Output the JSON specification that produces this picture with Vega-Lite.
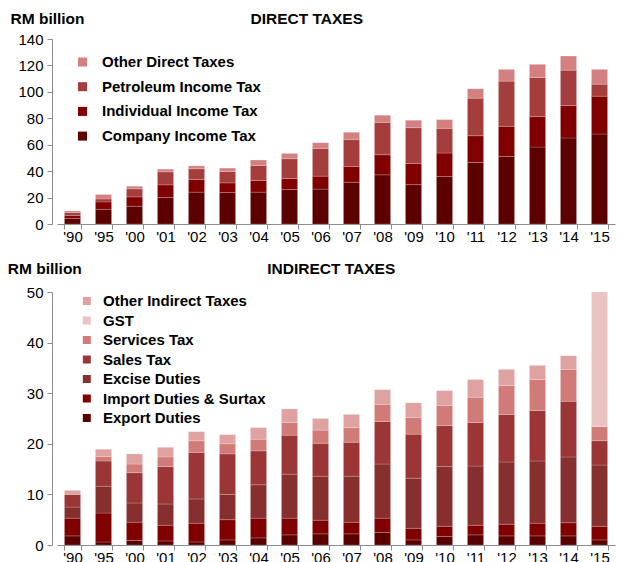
{
  "$schema": "https://vega.github.io/schema/vega-lite/v6.json",
  "padding": {"left": 7, "top": 11, "right": 2, "bottom": 0},
  "spacing": 17,
  "background": "white",
  "resolve": {"scale": {"color": "independent", "y": "independent", "x": "independent"}, "legend": {"color": "independent"}},
  "config": {
    "font": "Liberation Sans",
    "view": {"stroke": null},
    "axis": {
      "labelFont": "Liberation Sans", "labelFontSize": 15, "labelColor": "#000",
      "domainColor": "#8c8c8c", "tickColor": "#8c8c8c", "tickSize": 5, "grid": false,
      "titleFont": "Liberation Sans", "titleFontSize": 15.5, "titleFontWeight": "bold", "titleColor": "#000"
    },
    "legend": {
      "orient": "none", "labelFont": "Liberation Sans", "labelFontSize": 15, "labelFontWeight": "bold",
      "labelColor": "#000", "symbolType": "square", "symbolStrokeWidth": 0, "padding": 0, "labelLimit": 400
    }
  },
  "datasets": {
    "direct": [
      {"year": "'90", "Company Income Tax": 4.3, "Individual Income Tax": 2.2, "Petroleum Income Tax": 2.2, "Other Direct Taxes": 1.2},
      {"year": "'95", "Company Income Tax": 11.1, "Individual Income Tax": 5.6, "Petroleum Income Tax": 2.3, "Other Direct Taxes": 3.3},
      {"year": "'00", "Company Income Tax": 13.4, "Individual Income Tax": 7.1, "Petroleum Income Tax": 6.1, "Other Direct Taxes": 2.0},
      {"year": "'01", "Company Income Tax": 20.0, "Individual Income Tax": 9.6, "Petroleum Income Tax": 9.9, "Other Direct Taxes": 2.0},
      {"year": "'02", "Company Income Tax": 24.1, "Individual Income Tax": 9.6, "Petroleum Income Tax": 8.1, "Other Direct Taxes": 2.2},
      {"year": "'03", "Company Income Tax": 23.8, "Individual Income Tax": 7.3, "Petroleum Income Tax": 8.6, "Other Direct Taxes": 2.6},
      {"year": "'04", "Company Income Tax": 24.1, "Individual Income Tax": 8.8, "Petroleum Income Tax": 11.4, "Other Direct Taxes": 4.1},
      {"year": "'05", "Company Income Tax": 26.1, "Individual Income Tax": 8.3, "Petroleum Income Tax": 15.0, "Other Direct Taxes": 4.0},
      {"year": "'06", "Company Income Tax": 26.4, "Individual Income Tax": 9.8, "Petroleum Income Tax": 21.0, "Other Direct Taxes": 4.3},
      {"year": "'07", "Company Income Tax": 31.6, "Individual Income Tax": 11.9, "Petroleum Income Tax": 20.5, "Other Direct Taxes": 5.4},
      {"year": "'08", "Company Income Tax": 37.2, "Individual Income Tax": 15.2, "Petroleum Income Tax": 24.5, "Other Direct Taxes": 5.4},
      {"year": "'09", "Company Income Tax": 29.8, "Individual Income Tax": 16.0, "Petroleum Income Tax": 27.1, "Other Direct Taxes": 5.6},
      {"year": "'10", "Company Income Tax": 35.9, "Individual Income Tax": 17.8, "Petroleum Income Tax": 18.7, "Other Direct Taxes": 6.6},
      {"year": "'11", "Company Income Tax": 46.6, "Individual Income Tax": 20.2, "Petroleum Income Tax": 28.4, "Other Direct Taxes": 7.1},
      {"year": "'12", "Company Income Tax": 51.1, "Individual Income Tax": 22.8, "Petroleum Income Tax": 34.2, "Other Direct Taxes": 8.9},
      {"year": "'13", "Company Income Tax": 58.2, "Individual Income Tax": 23.1, "Petroleum Income Tax": 29.6, "Other Direct Taxes": 9.9},
      {"year": "'14", "Company Income Tax": 65.1, "Individual Income Tax": 24.5, "Petroleum Income Tax": 26.8, "Other Direct Taxes": 10.7},
      {"year": "'15", "Company Income Tax": 68.1, "Individual Income Tax": 28.6, "Petroleum Income Tax": 9.1, "Other Direct Taxes": 11.2}
    ],
    "indirect": [
      {"year": "'90", "Export Duties": 1.8, "Import Duties & Surtax": 3.5, "Excise Duties": 2.2, "Sales Tax": 2.5, "Services Tax": 0, "GST": 0, "Other Indirect Taxes": 0.8},
      {"year": "'95", "Export Duties": 0.6, "Import Duties & Surtax": 5.7, "Excise Duties": 5.3, "Sales Tax": 5.0, "Services Tax": 0.9, "GST": 0, "Other Indirect Taxes": 1.4},
      {"year": "'00", "Export Duties": 0.9, "Import Duties & Surtax": 3.6, "Excise Duties": 3.8, "Sales Tax": 6.0, "Services Tax": 1.7, "GST": 0, "Other Indirect Taxes": 2.0},
      {"year": "'01", "Export Duties": 0.8, "Import Duties & Surtax": 3.1, "Excise Duties": 4.2, "Sales Tax": 7.4, "Services Tax": 1.9, "GST": 0, "Other Indirect Taxes": 1.9},
      {"year": "'02", "Export Duties": 0.6, "Import Duties & Surtax": 3.7, "Excise Duties": 4.8, "Sales Tax": 9.2, "Services Tax": 2.3, "GST": 0, "Other Indirect Taxes": 1.8},
      {"year": "'03", "Export Duties": 1.0, "Import Duties & Surtax": 4.0, "Excise Duties": 5.0, "Sales Tax": 8.0, "Services Tax": 2.0, "GST": 0, "Other Indirect Taxes": 1.8},
      {"year": "'04", "Export Duties": 1.4, "Import Duties & Surtax": 3.9, "Excise Duties": 6.6, "Sales Tax": 6.7, "Services Tax": 2.3, "GST": 0, "Other Indirect Taxes": 2.3},
      {"year": "'05", "Export Duties": 2.0, "Import Duties & Surtax": 3.3, "Excise Duties": 8.7, "Sales Tax": 7.7, "Services Tax": 2.5, "GST": 0, "Other Indirect Taxes": 2.7},
      {"year": "'06", "Export Duties": 2.2, "Import Duties & Surtax": 2.7, "Excise Duties": 8.7, "Sales Tax": 6.5, "Services Tax": 2.6, "GST": 0, "Other Indirect Taxes": 2.3},
      {"year": "'07", "Export Duties": 2.2, "Import Duties & Surtax": 2.3, "Excise Duties": 9.1, "Sales Tax": 6.7, "Services Tax": 2.9, "GST": 0, "Other Indirect Taxes": 2.6},
      {"year": "'08", "Export Duties": 2.5, "Import Duties & Surtax": 2.8, "Excise Duties": 10.7, "Sales Tax": 8.4, "Services Tax": 3.4, "GST": 0, "Other Indirect Taxes": 2.9},
      {"year": "'09", "Export Duties": 1.0, "Import Duties & Surtax": 2.3, "Excise Duties": 9.9, "Sales Tax": 8.7, "Services Tax": 3.3, "GST": 0, "Other Indirect Taxes": 2.9},
      {"year": "'10", "Export Duties": 1.7, "Import Duties & Surtax": 2.0, "Excise Duties": 11.8, "Sales Tax": 8.1, "Services Tax": 4.0, "GST": 0, "Other Indirect Taxes": 2.9},
      {"year": "'11", "Export Duties": 2.0, "Import Duties & Surtax": 1.9, "Excise Duties": 11.7, "Sales Tax": 8.6, "Services Tax": 5.0, "GST": 0, "Other Indirect Taxes": 3.5},
      {"year": "'12", "Export Duties": 1.8, "Import Duties & Surtax": 2.3, "Excise Duties": 12.3, "Sales Tax": 9.4, "Services Tax": 5.7, "GST": 0, "Other Indirect Taxes": 3.2},
      {"year": "'13", "Export Duties": 1.8, "Import Duties & Surtax": 2.5, "Excise Duties": 12.3, "Sales Tax": 10.0, "Services Tax": 6.1, "GST": 0, "Other Indirect Taxes": 2.8},
      {"year": "'14", "Export Duties": 1.8, "Import Duties & Surtax": 2.6, "Excise Duties": 13.0, "Sales Tax": 11.0, "Services Tax": 6.3, "GST": 0, "Other Indirect Taxes": 2.7},
      {"year": "'15", "Export Duties": 1.0, "Import Duties & Surtax": 2.7, "Excise Duties": 12.1, "Sales Tax": 4.8, "Services Tax": 2.8, "GST": 26.6, "Other Indirect Taxes": 0}
    ]
  },
  "vconcat": [
    {
      "width": 558,
      "height": 185,
      "data": {"name": "direct"},
      "transform": [
        {"fold": ["Company Income Tax", "Individual Income Tax", "Petroleum Income Tax", "Other Direct Taxes"], "as": ["type", "value"]},
        {"calculate": "indexof(['Company Income Tax','Individual Income Tax','Petroleum Income Tax','Other Direct Taxes'], datum.type)", "as": "k"}
      ],
      "mark": {"type": "bar", "stroke": "#ffffff", "strokeOpacity": 0.3, "strokeWidth": 0.6},
      "encoding": {
        "x": {
          "field": "year", "type": "nominal",
          "scale": {"domain": ["'90","'95","'00","'01","'02","'03","'04","'05","'06","'07","'08","'09","'10","'11","'12","'13","'14","'15"], "paddingInner": 0.48, "paddingOuter": 0.24},
          "axis": {"labelAngle": 0, "tickBand": "extent", "labelPadding": 0, "title": "DIRECT TAXES", "titleX": 193, "titleY": -201, "titleAlign": "left", "titleBaseline": "alphabetic", "titleAnchor": null}
        },
        "y": {
          "field": "value", "type": "quantitative", "stack": "zero",
          "scale": {"domain": [0, 140], "nice": false},
          "axis": {"values": [0, 20, 40, 60, 80, 100, 120, 140], "offset": 5, "labelPadding": 4, "title": "RM billion", "titleAngle": 0, "titleAlign": "left", "titleBaseline": "alphabetic", "titleX": -42, "titleY": -16}
        },
        "color": {
          "field": "type", "type": "nominal",
          "scale": {"domain": ["Other Direct Taxes", "Petroleum Income Tax", "Individual Income Tax", "Company Income Tax"], "range": ["#D48080", "#A63D3D", "#800000", "#5C0000"]},
          "legend": {"title": null, "legendX": 18, "legendY": 15.5, "rowPadding": 8.7, "labelOffset": 12, "symbolSize": 81}
        },
        "order": {"field": "k", "type": "quantitative"}
      }
    },
    {
      "width": 558,
      "height": 253,
      "data": {"name": "indirect"},
      "transform": [
        {"fold": ["Export Duties", "Import Duties & Surtax", "Excise Duties", "Sales Tax", "Services Tax", "GST", "Other Indirect Taxes"], "as": ["type", "value"]},
        {"filter": "datum.value > 0"},
        {"calculate": "indexof(['Export Duties','Import Duties & Surtax','Excise Duties','Sales Tax','Services Tax','GST','Other Indirect Taxes'], datum.type)", "as": "k"}
      ],
      "mark": {"type": "bar", "stroke": "#ffffff", "strokeOpacity": 0.3, "strokeWidth": 0.6},
      "encoding": {
        "x": {
          "field": "year", "type": "nominal",
          "scale": {"domain": ["'90","'95","'00","'01","'02","'03","'04","'05","'06","'07","'08","'09","'10","'11","'12","'13","'14","'15"], "paddingInner": 0.48, "paddingOuter": 0.24},
          "axis": {"labelAngle": 0, "tickBand": "extent", "labelPadding": 0, "title": "INDIRECT TAXES", "titleX": 209.7, "titleY": -271.5, "titleAlign": "left", "titleBaseline": "alphabetic", "titleAnchor": null}
        },
        "y": {
          "field": "value", "type": "quantitative", "stack": "zero",
          "scale": {"domain": [0, 50], "nice": false},
          "axis": {"values": [0, 10, 20, 30, 40, 50], "offset": 5, "labelPadding": 4, "title": "RM billion", "titleAngle": 0, "titleAlign": "left", "titleBaseline": "alphabetic", "titleX": -44.7, "titleY": -18.7}
        },
        "color": {
          "field": "type", "type": "nominal",
          "scale": {"domain": ["Other Indirect Taxes", "GST", "Services Tax", "Sales Tax", "Excise Duties", "Import Duties & Surtax", "Export Duties"], "range": ["#E0A1A1", "#EAC3C3", "#D17B79", "#9C3636", "#872E2E", "#800000", "#5A0000"]},
          "legend": {"title": null, "legendX": 22.3, "legendY": 1.5, "rowPadding": 3.5, "labelOffset": 8.7, "symbolSize": 64}
        },
        "order": {"field": "k", "type": "quantitative"}
      }
    }
  ]
}
